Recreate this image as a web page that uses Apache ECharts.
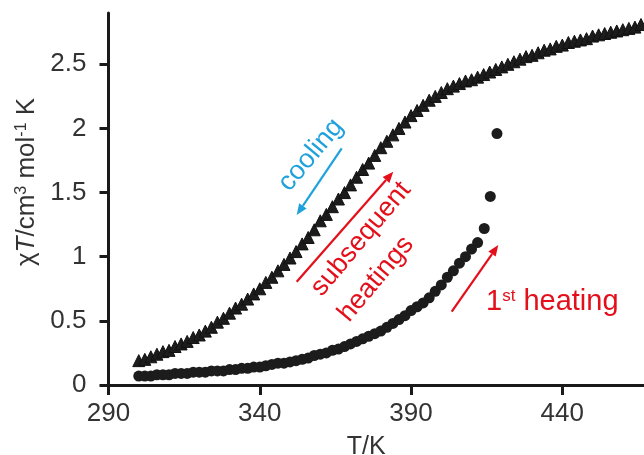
<!DOCTYPE html>
<html>
<head>
<meta charset="utf-8">
<script src="https://cdn.jsdelivr.net/npm/echarts@6/dist/echarts.min.js"></script>
<style>html,body{margin:0;padding:0;background:#fff}#c{width:644px;height:455px}</style>
</head>
<body>
<div id="c"></div>
<script>
// Upper curve (cooling / subsequent heatings), triangles
const tempsUpper = [300,302,304,306,308,310,312,314,316,318,320,322,324,326,328,330,332,334,336,338,340,342,344,346,348,350,352,354,356,358,360,362,364,366,368,370,372,374,376,378,380,382,384,386,388,390,392,394,396,398,400,402,404,406,408,410,412,414,416,418,420,422,424,426,428,430,432,434,436,438,440,442,444,446,448,450,452,454,456,458,460,462,464,466];
const chiTUpper = [0.19,0.20,0.22,0.24,0.26,0.27,0.30,0.32,0.34,0.37,0.39,0.42,0.45,0.49,0.52,0.56,0.60,0.63,0.67,0.71,0.75,0.80,0.84,0.89,0.94,0.99,1.04,1.10,1.15,1.21,1.28,1.33,1.39,1.45,1.50,1.56,1.62,1.68,1.73,1.79,1.85,1.90,1.95,2.00,2.05,2.10,2.14,2.18,2.22,2.25,2.28,2.31,2.33,2.35,2.37,2.38,2.40,2.42,2.44,2.46,2.48,2.50,2.52,2.54,2.56,2.57,2.59,2.61,2.62,2.64,2.65,2.67,2.68,2.69,2.70,2.72,2.73,2.74,2.75,2.76,2.77,2.78,2.79,2.81];
// First heating, filled circles
const tempsFirst = [300,302,304,306,308,310,312,314,316,318,320,322,324,326,328,330,332,334,336,338,340,342,344,346,348,350,352,354,356,358,360,362,364,366,368,370,372,374,376,378,380,382,384,386,388,390,392,394,396,398,400,402,404,406,408,410,412,414.2,416.2,418.4];
const chiTFirst = [0.07,0.07,0.07,0.08,0.08,0.08,0.09,0.09,0.09,0.10,0.10,0.10,0.11,0.11,0.11,0.12,0.12,0.13,0.13,0.14,0.14,0.15,0.16,0.17,0.17,0.18,0.19,0.20,0.21,0.23,0.24,0.25,0.27,0.28,0.30,0.32,0.34,0.36,0.38,0.40,0.42,0.45,0.48,0.51,0.54,0.58,0.61,0.64,0.68,0.73,0.78,0.84,0.89,0.95,1.00,1.06,1.11,1.22,1.47,1.96];
const xTicks = [290,340,390,440];
const yTicks = [0,0.5,1,1.5,2,2.5];

const upper = tempsUpper.map((t,i)=>[t,chiTUpper[i]]);
const first = tempsFirst.map((t,i)=>[t,chiTFirst[i]]);

const RED = '#e3101b', BLUE = '#1fa2dc';
const FONT = 'Liberation Sans, Arial, sans-serif';

function arrow(x1,y1,x2,y2,color){
  const a = Math.atan2(y2-y1,x2-x1), L=11, W=4.5;
  const bx = x2-L*Math.cos(a), by = y2-L*Math.sin(a);
  const px = -Math.sin(a)*W, py = Math.cos(a)*W;
  return [
    {type:'line',shape:{x1:x1,y1:y1,x2:bx,y2:by},style:{stroke:color,lineWidth:2.2},z:50},
    {type:'polygon',shape:{points:[[x2,y2],[bx+px,by+py],[bx-px,by-py]]},style:{fill:color},z:50}
  ];
}
const rot = 50*Math.PI/180;

const chart = echarts.init(document.getElementById('c'),null,{renderer:'canvas'});
chart.setOption({
  animation:false,
  backgroundColor:'#fff',
  grid:{left:108.5,right:0,top:13,bottom:70,containLabel:false,outerBoundsMode:'none'},
  xAxis:{
    type:'value',min:290,max:467,
    name:'T/K',nameLocation:'middle',nameGap:50,
    nameTextStyle:{fontSize:25,color:'#333',fontFamily:FONT,padding:[0,20,0,0]},
    axisLine:{show:true,lineStyle:{color:'#1a1a1a',width:3}},
    axisTick:{show:true,inside:false,length:10,lineStyle:{color:'#1a1a1a',width:3},customValues:xTicks},
    axisLabel:{customValues:xTicks,fontSize:26,color:'#333',fontFamily:FONT,margin:16},
    splitLine:{show:false}
  },
  yAxis:{
    type:'value',min:0,max:2.9,
    name:'{g|χ}{i|T}{n|/cm}{s|3}{n| mol}{s|-1}{n| K}',
    nameLocation:'middle',nameRotate:90,nameGap:56,
    nameTextStyle:{color:'#333',fontFamily:FONT,padding:[0,0,0,34],
      rich:{
        g:{fontSize:26,color:'#333',fontFamily:FONT,verticalAlign:'bottom'},
        i:{fontSize:26,color:'#333',fontFamily:FONT,fontStyle:'italic',verticalAlign:'bottom'},
        n:{fontSize:26,color:'#333',fontFamily:FONT,verticalAlign:'bottom'},
        s:{fontSize:16,color:'#333',fontFamily:FONT,verticalAlign:'top'}
      }},
    axisLine:{show:true,lineStyle:{color:'#1a1a1a',width:3}},
    axisTick:{show:true,inside:false,length:9,lineStyle:{color:'#1a1a1a',width:3},customValues:yTicks},
    axisLabel:{customValues:yTicks,fontSize:26,color:'#333',fontFamily:FONT,margin:22},
    splitLine:{show:false}
  },
  series:[
    {type:'scatter',name:'first heating',data:first,symbol:'circle',symbolSize:11,
      itemStyle:{color:'#1c1c1c',opacity:1},z:2},
    {type:'scatter',name:'cooling / subsequent heatings',data:upper,symbol:'triangle',symbolSize:12,
      itemStyle:{color:'#1c1c1c',borderColor:'#111',borderWidth:1,opacity:1},z:3}
  ],
  graphic:[
    {type:'text',x:311,y:155,rotation:rot,z:60,
      style:{text:'cooling',fill:BLUE,font:'27px '+FONT,textAlign:'center',textVerticalAlign:'middle'}},
    ...arrow(341.7,148.3,296.7,215,BLUE),
    {type:'text',x:361,y:239,rotation:rot,z:60,
      style:{text:'subsequent',fill:RED,font:'27px '+FONT,textAlign:'center',textVerticalAlign:'middle'}},
    {type:'text',x:376,y:279,rotation:rot,z:60,
      style:{text:'heatings',fill:RED,font:'27px '+FONT,textAlign:'center',textVerticalAlign:'middle'}},
    ...arrow(296.7,281.7,393.3,171.7,RED),
    {type:'text',x:486,y:302,z:60,
      style:{text:'{a|1}{b|st}{a| heating}',textAlign:'left',textVerticalAlign:'middle',
        rich:{a:{fontSize:29,fill:RED,color:RED,fontFamily:FONT,verticalAlign:'bottom'},
              b:{fontSize:17,fill:RED,color:RED,fontFamily:FONT,verticalAlign:'top'}}}},
    ...arrow(451.7,311.7,498.3,245,RED)
  ]
});
</script>
</body>
</html>
